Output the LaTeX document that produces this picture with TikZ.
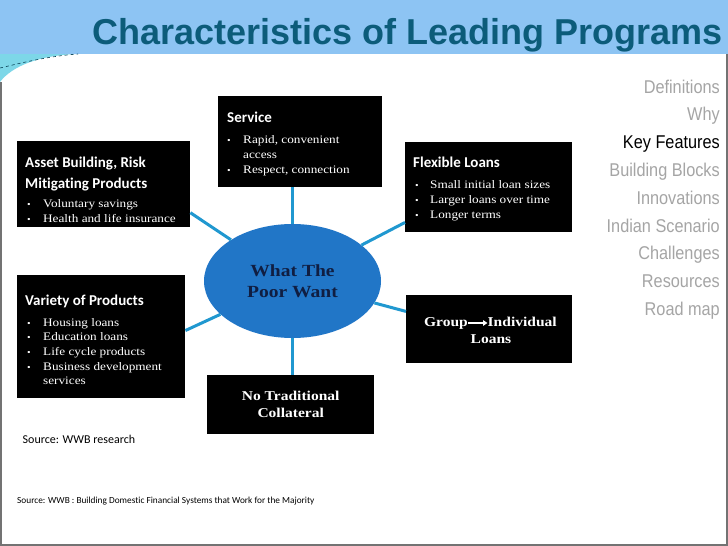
\documentclass[tikz,border=0pt]{standalone}
\usepackage{fontspec}
\usetikzlibrary{shapes.geometric,arrows.meta,calc}
\setmainfont{Liberation Serif}
\newfontfamily\arialf{Liberation Sans}
\newfontfamily\menuf[FakeStretch=0.88]{Liberation Sans}
\newfontfamily\calf[Ligatures=NoCommon]{Carlito}
\newfontfamily\bookf[FakeStretch=1.15]{Liberation Serif}
\definecolor{bandblue}{RGB}{141,196,243}
\definecolor{titleteal}{RGB}{12,92,122}
\definecolor{ellblue}{RGB}{33,118,199}
\definecolor{navy}{RGB}{16,30,66}
\definecolor{linkblue}{RGB}{32,152,208}
\definecolor{menugray}{RGB}{165,165,165}
\definecolor{cornercyan}{RGB}{125,215,232}
\definecolor{framegray}{RGB}{115,115,115}
\tikzset{
  box/.style={fill=black, draw=none, inner sep=0, anchor=north west},
  btitle/.style={anchor=base west, inner sep=0, text=white, font=\calf\bfseries\fontsize{15}{18}\selectfont},
  bul/.style={anchor=base west, inner sep=0, text=white, font=\bookf\fontsize{11.5}{14}\selectfont},
  bdot/.style={anchor=base west, inner sep=0, text=white, font=\bookf\fontsize{9}{14}\selectfont},
  btext/.style={inner sep=0, text=white, align=center, font=\bookf\bfseries\fontsize{13.5}{17}\selectfont},
  menu/.style={anchor=base east, inner sep=0, text=menugray, font=\menuf\fontsize{18.5}{22}\selectfont},
  link/.style={draw=linkblue, line width=3pt},
  src/.style={anchor=base west, inner sep=0, text=black},
}
\begin{document}
\begin{tikzpicture}[x=1pt,y=-1pt]
\useasboundingbox (0,0) rectangle (728,546);
% background
\fill[white] (0,0) rectangle (728,546);
\fill[bandblue] (0,0) rectangle (728,54);
\fill[cornercyan] (0,54) -- (78,54) .. controls (40,55) and (12,66) .. (0,82) -- cycle;
\draw[titleteal!70!black, dashed, line width=0.6pt] (0,68) .. controls (25,62) and (50,56) .. (78,54);
\draw[framegray, line width=1.5pt] (1,82) -- (1,545) -- (727,545) -- (727,54);
% title
\node[anchor=base west, inner sep=0, text=titleteal, font=\arialf\bfseries\fontsize{36}{40}\selectfont] (title) at (92,44) {Characteristics of Leading Programs};
% menu
\node[menu] (m1) at (720,93) {Definitions};
\node[menu] (m2) at (720,120.8) {Why};
\node[menu, text=black] (m3) at (720,148.6) {Key Features};
\node[menu] (m4) at (720,176.4) {Building Blocks};
\node[menu] (m5) at (720,204.2) {Innovations};
\node[menu] (m6) at (720,232) {Indian Scenario};
\node[menu] (m7) at (720,259.8) {Challenges};
\node[menu] (m8) at (720,287.6) {Resources};
\node[menu] (m9) at (720,315.4) {Road map};
% boxes
\node[box, minimum width=173, minimum height=86] (asset) at (17,141) {};
\node[box, minimum width=168, minimum height=123] (variety) at (17,275) {};
\node[box, minimum width=164, minimum height=91] (service) at (218,96) {};
\node[box, minimum width=167, minimum height=90] (flex) at (405,142) {};
\node[box, minimum width=166, minimum height=68] (group) at (406,295) {};
\node[box, minimum width=167, minimum height=59] (notrad) at (207,375) {};
% ellipse
\node[ellipse, fill=ellblue, minimum width=177, minimum height=114, inner sep=0,
  text=navy, align=center, font=\bookf\bfseries\fontsize{17}{21}\selectfont] (ell) at (292.5,281) {What The\\Poor Want};
% asset text
\node[btitle] (a0) at (25,167.5) {Asset Building, Risk};
\node[btitle] (a1) at (25,188) {Mitigating Products};
\node[bdot] (ad1) at (27,207.5) {\textbullet};
\node[bul] (at1) at (43,207.5) {Voluntary savings};
\node[bdot] (ad2) at (27,222.5) {\textbullet};
\node[bul] (at2) at (43,222.5) {Health and life insurance};
% variety text
\node[btitle] (v0) at (25,305.5) {Variety of Products};
\node[bdot] (vd1) at (27,326.5) {\textbullet};
\node[bul] (vt1) at (43,326.5) {Housing loans};
\node[bdot] (vd2) at (27,340.5) {\textbullet};
\node[bul] (vt2) at (43,340.5) {Education loans};
\node[bdot] (vd3) at (27,355.5) {\textbullet};
\node[bul] (vt3) at (43,355.5) {Life cycle products};
\node[bdot] (vd4) at (27,370.5) {\textbullet};
\node[bul] (vt4) at (43,370.5) {Business development};
\node[bul] (vt5) at (43,384.5) {services};
% service text
\node[btitle] (s0) at (227,122.5) {Service};
\node[bdot] (sd1) at (227,143.5) {\textbullet};
\node[bul] (st1) at (243,143.5) {Rapid, convenient};
\node[bul] (st2) at (243,158.5) {access};
\node[bdot] (sd2) at (227,173.5) {\textbullet};
\node[bul] (st3) at (243,173.5) {Respect, connection};
% flexible text
\node[btitle] (f0) at (413,167.5) {Flexible Loans};
\node[bdot] (fd1) at (415,188.5) {\textbullet};
\node[bul] (ft1) at (430,188.5) {Small initial loan sizes};
\node[bdot] (fd2) at (415,203.5) {\textbullet};
\node[bul] (ft2) at (430,203.5) {Larger loans over time};
\node[bdot] (fd3) at (415,218.5) {\textbullet};
\node[bul] (ft3) at (430,218.5) {Longer terms};
% group text
\node[btext, anchor=base east, text height=9, text depth=3] (g1) at (468,326) {Group};
\node[btext, anchor=base west, text height=9, text depth=3] (g2) at (487.5,326) {Individual};
\draw[white, line width=1.6pt, -{Triangle[length=4.5pt,width=5.5pt]}] (g1.east) -- (g2.west);
\node[btext, anchor=base] (g3) at (491,343) {Loans};
% no traditional text
\node[btext] (n0) at (notrad) {No Traditional\\Collateral};
% connectors
\draw[link] (ell.north) -- (ell.north |- service.south);
\draw[link] (ell.south) -- (ell.south |- notrad.north);
\draw[link] (ell) -- ($(asset.south east)!0.17!(asset.north east)$);
\draw[link] (ell) -- ($(flex.south west)!0.11!(flex.north west)$);
\draw[link] (ell) -- ($(variety.south east)!0.55!(variety.north east)$);
\draw[link] (ell) -- ($(group.south west)!0.76!(group.north west)$);
% sources
\node[src, font=\calf\fontsize{12}{14}\selectfont] (src1) at (22.5,443) {Source: WWB research};
\node[src, font=\calf\fontsize{9.3}{11}\selectfont] (src2) at (17,503) {Source: WWB : Building Domestic Financial Systems that Work for the Majority};
\end{tikzpicture}
\end{document}
